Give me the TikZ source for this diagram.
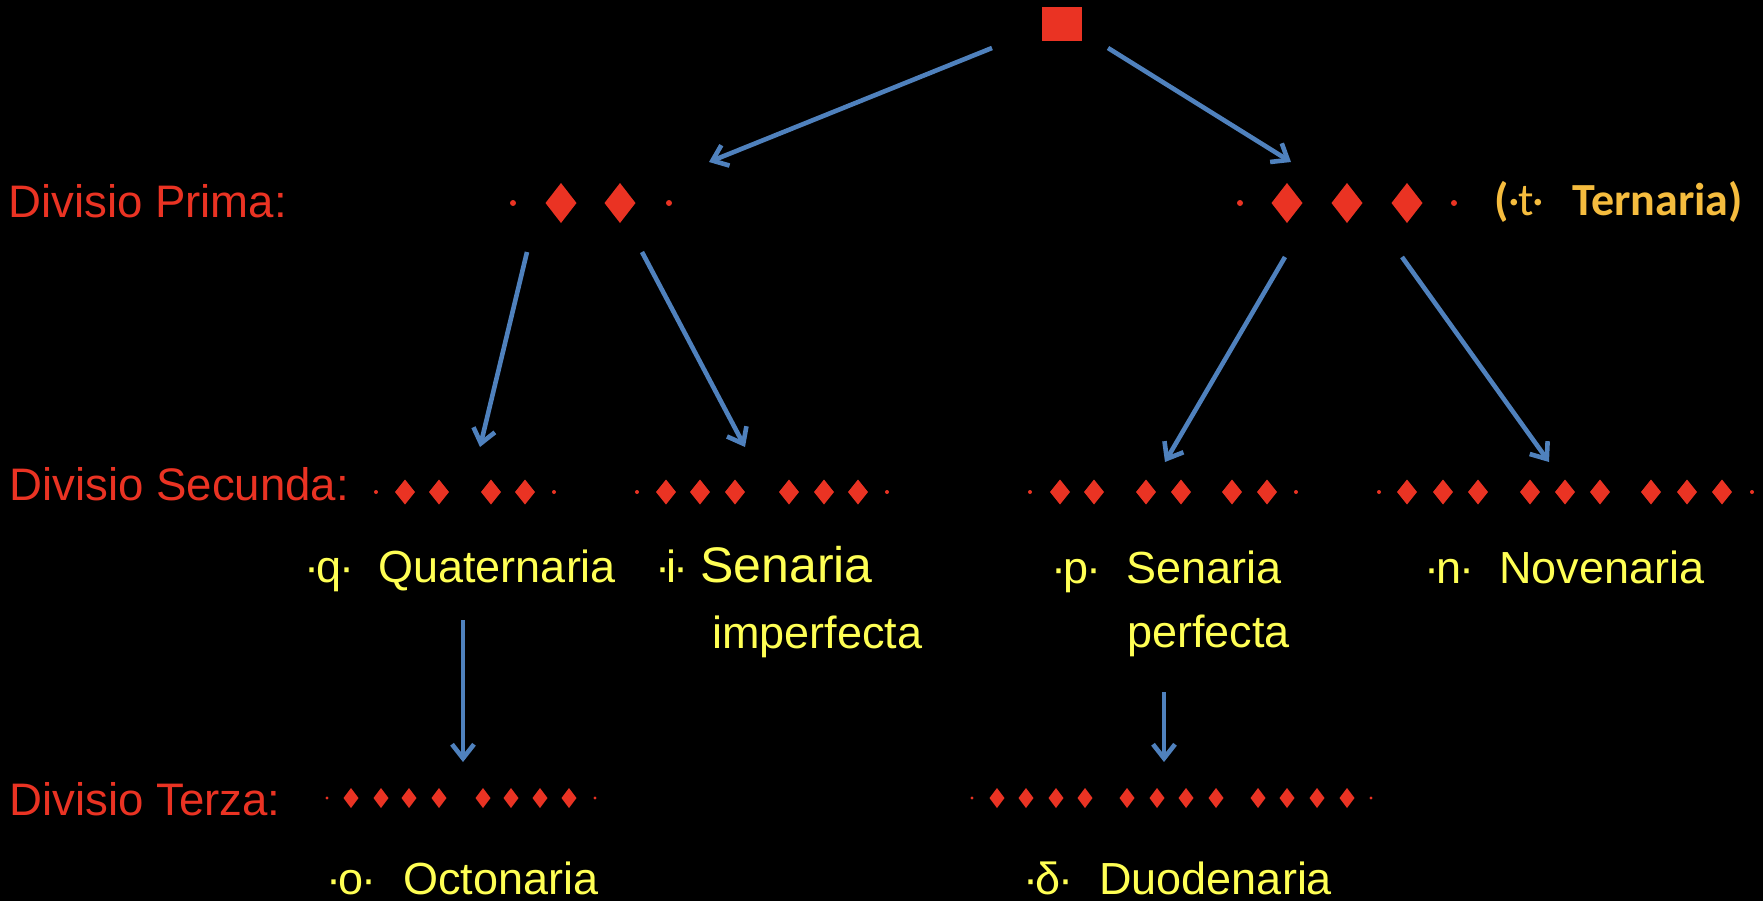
\documentclass[tikz,border=0pt]{standalone}
\usepackage{fontspec}
\setmainfont{Liberation Sans}
\newfontfamily\calfont{Carlito}
\usetikzlibrary{arrows.meta}

\definecolor{divred}{RGB}{234,51,35}
\definecolor{labyellow}{RGB}{255,255,84}
\definecolor{ternorange}{RGB}{245,188,62}
\definecolor{linkblue}{RGB}{79,129,189}

\tikzset{
  divlabel/.style={text=divred, font=\fontsize{22.8}{27}\selectfont, anchor=base west, inner sep=0pt},
  namelabel/.style={text=labyellow, font=\fontsize{22.5}{27}\selectfont, anchor=base west, inner sep=0pt},
  link/.style={draw=linkblue, line width=2.3pt, -{Straight Barb[length=7pt,width=11pt]}}
}

% #1 = y, #2 = half width, #3 = half height, #4 = x list
\newcommand{\gemrow}[4]{%
  \foreach \gx in {#4}
    \fill[divred] (\gx,#1) +(0,#3) -- +(#2,0) -- +(0,-#3) -- +(-#2,0) -- cycle;}
\newcommand{\gemdot}[3]{\fill[divred] (#1,#2) circle (#3);}
% letter between two tight dots
\newcommand{\dotted}[2][1.3pt]{·\kern-#1#2\kern-#1·}

\begin{document}
\begin{tikzpicture}[x=0.5pt,y=-0.5pt]
     \useasboundingbox (0,0) rectangle (1763,901);
     \fill[black] (0,0) rectangle (1763,901);
     %\draw[step=50,very thin,color=blue!20] (0,0) grid (1763,901);

     \node[fill=divred, minimum width=20pt, minimum height=17pt, inner sep=0pt] (root) at (1062,24) {};

     \node[divlabel] (prima) at (8,217) {Divisio Prima:};
     \node[divlabel] (secunda) at (9,500) {Divisio Secunda:};
     \node[divlabel] (terza) at (9,815) {Divisio Terza:};

     % divisio prima
     \gemdot{513}{203}{1.5pt} \gemdot{669}{203}{1.5pt}
     \gemrow{203}{15.5}{20}{561,620}
     \gemdot{1240}{203}{1.5pt} \gemdot{1454}{203}{1.5pt}
     \gemrow{203}{15.5}{20}{1287,1347,1407}
     \node[text=ternorange, font=\fontsize{23}{27}\selectfont\calfont, anchor=base west, inner sep=0pt] (tlab) at (1494,215) {\textbf{(}\dotted[0.8pt]{t}};
     \node[text=ternorange, font=\fontsize{23}{27}\selectfont\calfont\bfseries, anchor=base west, inner sep=0pt] (ternaria) at (1572,215) {Ternaria)};

     % divisio secunda
     \gemdot{376}{492}{1pt} \gemdot{554}{492}{1pt}
     \gemrow{492}{10}{12.5}{405,439,491,525}
     \gemdot{637}{492}{1pt} \gemdot{887}{492}{1pt}
     \gemrow{492}{10}{12.5}{666,700,735,789,824,858}
     \gemdot{1030}{492}{1pt} \gemdot{1296}{492}{1pt}
     \gemrow{492}{10}{12.5}{1060,1094,1146,1181,1232,1267}
     \gemdot{1379}{492}{1pt} \gemdot{1752}{492}{1pt}
     \gemrow{492}{10}{12.5}{1407,1443,1478,1530,1565,1600,1651,1687,1722}

     \node[namelabel] (qlab) at (304,582) {\dotted{q}};
     \node[namelabel] (quaternaria) at (378,582) {Quaternaria};
     \node[namelabel] (ilab) at (655,582) {\dotted[1.8pt]{i}};
     \node[namelabel, font=\fontsize{25}{30}\selectfont] (senimp) at (700,582) {Senaria};
     \node[namelabel] (imperfecta) at (712,648) {imperfecta};
     \node[namelabel] (plab) at (1051,583) {\dotted{p}};
     \node[namelabel] (senperf) at (1126,583) {Senaria};
     \node[namelabel] (perfecta) at (1127,647) {perfecta};
     \node[namelabel] (nlab) at (1424,583) {\dotted{n}};
     \node[namelabel] (novenaria) at (1499,583) {Novenaria};

     % divisio terza
     \gemdot{327}{798}{0.8pt} \gemdot{595}{798}{0.8pt}
     \gemrow{798}{7.5}{10}{351,381,409,439,483,511,540,569}
     \gemdot{972}{798}{0.8pt} \gemdot{1371}{798}{0.8pt}
     \gemrow{798}{7.5}{10}{997,1026,1056,1085,1127,1157,1186,1216,1258,1287,1317,1347}

     \node[namelabel] (olab) at (326,894) {\dotted{o}};
     \node[namelabel] (octonaria) at (403,894) {Octonaria};
     \node[namelabel] (dlab) at (1023,894) {\dotted{δ}};
     \node[namelabel] (duodenaria) at (1099,894) {Duodenaria};

     % arrows
     \coordinate (rootL) at (992,48);
     \coordinate (rootR) at (1108,48);
     \coordinate (binIn) at (709,162);
     \coordinate (ternIn) at (1291,162);
     \coordinate (binL) at (527,252);
     \coordinate (binR) at (642,252);
     \coordinate (ternL) at (1285,257);
     \coordinate (ternR) at (1402,257);
     \coordinate (quatIn) at (480,447);
     \coordinate (senimpIn) at (745,447);
     \coordinate (senperfIn) at (1165,462);
     \coordinate (novIn) at (1549,462);
     \coordinate (quatOut) at (463,620);
     \coordinate (octIn) at (463,762);
     \coordinate (perfOut) at (1164,692);
     \coordinate (duoIn) at (1164,762);

     \draw[link] (rootL) -- (binIn);
     \draw[link] (rootR) -- (ternIn);
     \draw[link] (binL) -- (quatIn);
     \draw[link] (binR) -- (senimpIn);
     \draw[link] (ternL) -- (senperfIn);
     \draw[link] (ternR) -- (novIn);
     \draw[link] (quatOut) -- (octIn);
     \draw[link] (perfOut) -- (duoIn);

  \end{tikzpicture}
\end{document}
